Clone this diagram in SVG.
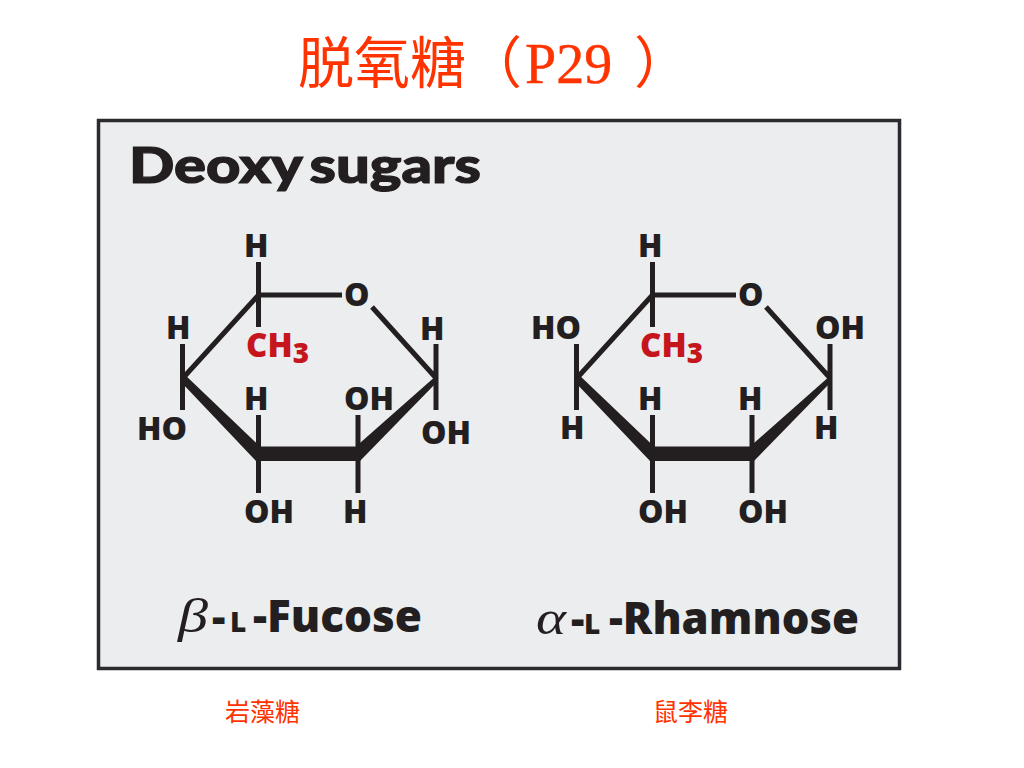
<svg xmlns="http://www.w3.org/2000/svg" width="1024" height="768" viewBox="0 0 1024 768">
<style>
.t{font-family:"Liberation Serif","Noto Sans CJK SC",serif;fill:#ff3300;stroke:#ff3300;stroke-width:.4}
.c{font-family:"Noto Sans CJK SC",sans-serif;fill:#ff3300;font-weight:400}
.a{font-family:"Open Sans","Liberation Sans",sans-serif;font-weight:800;font-size:32px;fill:#231f20}
.r{font-family:"Open Sans","Liberation Sans",sans-serif;font-weight:800;font-size:33px;fill:#c4161c}
.s{font-size:28px}
.b{font-family:"Open Sans","Liberation Sans",sans-serif;font-weight:800;fill:#231f20}
.g{font-family:"Liberation Serif",serif;font-style:italic;fill:#231f20;font-size:48px}
.l{stroke:#231f20;stroke-width:5;fill:none}
.w{fill:#231f20}
</style>
<defs>
<g id="ring">
<path class="l" d="M258.5 262V327M258.5 295H342M258.5 295L183 378M372 307L436 378M182.5 344V410M436 344V410M258.5 415V447M258.5 460V493M358 415V447M358 460V493"/>
<path class="w" d="M183 373L260 446.500H356L437 375L437 382L360 461H256L181 382Z"/>
</g>
</defs>
<rect id="panel" x="98.500" y="120.500" width="801" height="548" fill="#ecedef" stroke="#2b2b2f" stroke-width="3.500"/>
<g id="title">
<text class="c" x="298" y="83" font-size="56">脱氧糖</text>
<text class="c" x="466" y="83" font-size="56">（</text>
<text class="t" x="525" y="83" font-size="56">P29</text>
<text class="c" x="634" y="83" font-size="56">）</text>
</g>
<text id="heading" x="129" y="183" textLength="352" lengthAdjust="spacingAndGlyphs" style="font-family:Lato,sans-serif;font-weight:900;font-size:50px;fill:#231f20;stroke:#231f20;stroke-width:1.200;word-spacing:-5px">Deoxy sugars</text>
<g id="connectors">
<use href="#ring"/>
<use href="#ring" x="394"/>
</g>
<g id="fucose">
<text class="a" x="244" y="257">H</text>
<text class="a" x="344" y="306">O</text>
<text class="a" x="166" y="339">H</text>
<text class="a" x="420" y="340">H</text>
<text class="r" x="246" y="357">CH<tspan class="s" dy="6">3</tspan></text>
<text class="a" x="244" y="410">H</text>
<text class="a" x="344" y="410">OH</text>
<text class="a" x="137" y="440">HO</text>
<text class="a" x="421" y="444">OH</text>
<text class="a" x="244" y="523">OH</text>
<text class="a" x="343" y="523">H</text>
<text class="g" x="178" y="632" textLength="30" lengthAdjust="spacingAndGlyphs">β</text>
<text class="b" x="212" y="632" font-size="42">-</text>
<text class="b" x="230" y="632" font-size="28">L</text>
<text class="b" x="253" y="632" font-size="44" textLength="169" lengthAdjust="spacingAndGlyphs">-Fucose</text>
</g>
<g id="rhamnose">
<text class="a" x="638" y="257">H</text>
<text class="a" x="738" y="306">O</text>
<text class="a" x="531" y="339">HO</text>
<text class="a" x="815" y="339">OH</text>
<text class="r" x="640" y="357">CH<tspan class="s" dy="6">3</tspan></text>
<text class="a" x="638" y="410">H</text>
<text class="a" x="738" y="410">H</text>
<text class="a" x="560" y="439">H</text>
<text class="a" x="814" y="439">H</text>
<text class="a" x="638" y="523">OH</text>
<text class="a" x="738" y="523">OH</text>
<text class="g" x="536" y="634" textLength="30" lengthAdjust="spacingAndGlyphs">α</text>
<text class="b" x="571" y="634" font-size="42">-</text>
<text class="b" x="584" y="634" font-size="28">L</text>
<text class="b" x="609" y="634" font-size="44" textLength="250" lengthAdjust="spacingAndGlyphs">-Rhamnose</text>
</g>
<text id="label-fucose" class="c" x="225" y="721" font-size="25">岩藻糖</text>
<text id="label-rhamnose" class="c" x="653" y="721" font-size="25">鼠李糖</text>
</svg>
